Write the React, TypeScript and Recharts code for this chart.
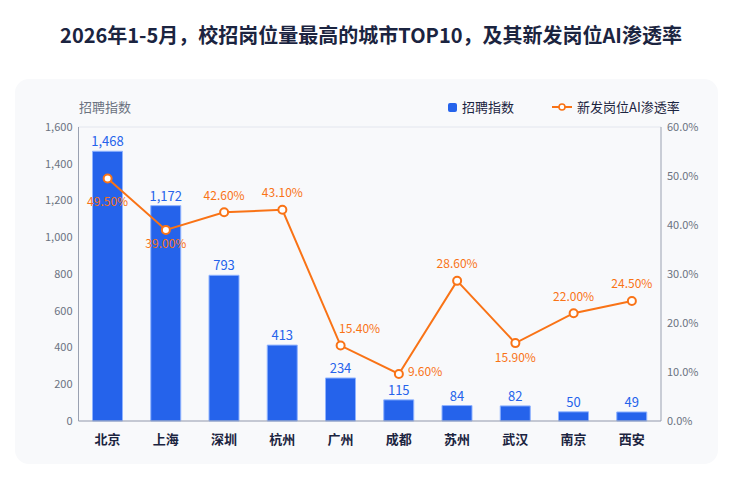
import React from "react";
import {
  ComposedChart,
  Bar,
  Line,
  XAxis,
  YAxis,
  CartesianGrid,
  LabelList,
} from "recharts";

const cities = ["北京", "上海", "深圳", "杭州", "广州", "成都", "苏州", "武汉", "南京", "西安"];
const hireIndex = [1468, 1172, 793, 413, 234, 115, 84, 82, 50, 49];
const aiRate = [49.5, 39.0, 42.6, 43.1, 15.4, 9.6, 28.6, 15.9, 22.0, 24.5];
const leftTicks = [0, 200, 400, 600, 800, 1000, 1200, 1400, 1600];
const rightTicks = [0, 10, 20, 30, 40, 50, 60];
// where each rate label sits relative to its point
const rateLabelPos = ["belowFar", "below", "above", "above", "aboveRight", "right", "above", "below", "above", "above"];

const FONT = '"Noto Sans CJK SC", "Noto Sans", sans-serif';
const BLUE = "#2563eb";
const ORANGE = "#f97316";
const NAVY = "#1b2440";
const GRAY = "#6b7280";
const AXIS = "#9aa1b1";

const data = cities.map((c, i) => ({ city: c, hire: hireIndex[i], rate: aiRate[i] }));

function RateLabel(props: any) {
  const { x, y, value, index } = props;
  const pos = rateLabelPos[index] || "above";
  let dx = 0;
  let dy = -18;
  let anchor: "middle" | "start" = "middle";
  if (pos === "below") dy = 13;
  if (pos === "belowFar") dy = 22;
  if (pos === "aboveRight") {
    dx = 19;
    dy = -18;
  }
  if (pos === "right") {
    dx = 9;
    dy = -3;
    anchor = "start";
  }
  return (
    <text
      x={x + dx}
      y={y + dy}
      fill={ORANGE}
      fontSize={12}
      fontFamily={FONT}
      textAnchor={anchor}
      dominantBaseline="central"
    >
      {Number(value).toFixed(2)}%
    </text>
  );
}

export default function App() {
  return (
    <div
      style={{
        position: "absolute",
        left: 0,
        top: 0,
        width: 742,
        height: 481,
        background: "#ffffff",
        fontFamily: FONT,
        overflow: "hidden",
      }}
    >
      <div
        style={{
          position: "absolute",
          top: 22,
          left: 0,
          width: 742,
          textAlign: "center",
          fontSize: 20,
          fontWeight: 700,
          color: NAVY,
          lineHeight: "26px",
        }}
      >
        2026年1-5月，校招岗位量最高的城市TOP10，及其新发岗位AI渗透率
      </div>
      <div
        style={{
          position: "absolute",
          left: 15,
          top: 79,
          width: 703,
          height: 385,
          background: "#f8f9fb",
          borderRadius: 14,
        }}
      />
      <div
        style={{
          position: "absolute",
          left: 79,
          top: 98,
          fontSize: 13,
          color: GRAY,
          lineHeight: "18px",
        }}
      >
        招聘指数
      </div>
      <div
        style={{
          position: "absolute",
          left: 448,
          top: 98,
          display: "flex",
          alignItems: "center",
          fontSize: 13,
          color: NAVY,
          lineHeight: "18px",
        }}
      >
        <span
          style={{
            display: "inline-block",
            width: 9,
            height: 9,
            borderRadius: 2,
            background: BLUE,
            marginRight: 5,
          }}
        />
        <span>招聘指数</span>
        <svg width={20} height={10} style={{ marginLeft: 38, marginRight: 5 }}>
          <line x1={0} y1={5} x2={20} y2={5} stroke={ORANGE} strokeWidth={2} />
          <circle cx={10} cy={5} r={3} fill="#fff" stroke={ORANGE} strokeWidth={1.6} />
        </svg>
        <span>新发岗位AI渗透率</span>
      </div>
      <div style={{ position: "absolute", left: 0, top: 0 }}>
        <ComposedChart
          width={742}
          height={481}
          data={data}
          margin={{ top: 127, right: 21, bottom: 30, left: 18.5 }}
        >
          <CartesianGrid vertical={false} stroke="#e3e6ee" />
          <XAxis
            dataKey="city"
            axisLine={{ stroke: AXIS }}
            tickLine={false}
            tickMargin={8}
            height={30}
            tick={{ fontSize: 13, fontWeight: 700, fill: NAVY, fontFamily: FONT }}
          />
          <YAxis
            yAxisId="left"
            width={60}
            domain={[0, 1600]}
            ticks={leftTicks}
            axisLine={{ stroke: AXIS }}
            tickLine={false}
            tickSize={4}
            tickMargin={2}
            tickFormatter={(v: number) => v.toLocaleString("en-US")}
            tick={{ fontSize: 11, fill: GRAY, fontFamily: FONT }}
          />
          <YAxis
            yAxisId="right"
            orientation="right"
            width={60}
            domain={[0, 60]}
            ticks={rightTicks}
            axisLine={{ stroke: AXIS }}
            tickLine={false}
            tickSize={4}
            tickMargin={2}
            tickFormatter={(v: number) => v.toFixed(1) + "%"}
            tick={{ fontSize: 11, fill: GRAY, fontFamily: FONT }}
          />
          <Bar
            yAxisId="left"
            dataKey="hire"
            barSize={30}
            fill={BLUE}
            stroke="#8fb3ff"
            strokeWidth={1}
            isAnimationActive={false}
          >
            <LabelList
              dataKey="hire"
              position="top"
              offset={5}
              formatter={(v: any) => Number(v).toLocaleString("en-US")}
              style={{ fontSize: 13, fill: BLUE, fontFamily: FONT }}
            />
          </Bar>
          <Line
            yAxisId="right"
            dataKey="rate"
            stroke={ORANGE}
            strokeWidth={2}
            dot={{ r: 4, fill: "#fff", stroke: ORANGE, strokeWidth: 2 }}
            activeDot={false}
            isAnimationActive={false}
          >
            <LabelList dataKey="rate" content={<RateLabel />} />
          </Line>
        </ComposedChart>
      </div>
    </div>
  );
}
